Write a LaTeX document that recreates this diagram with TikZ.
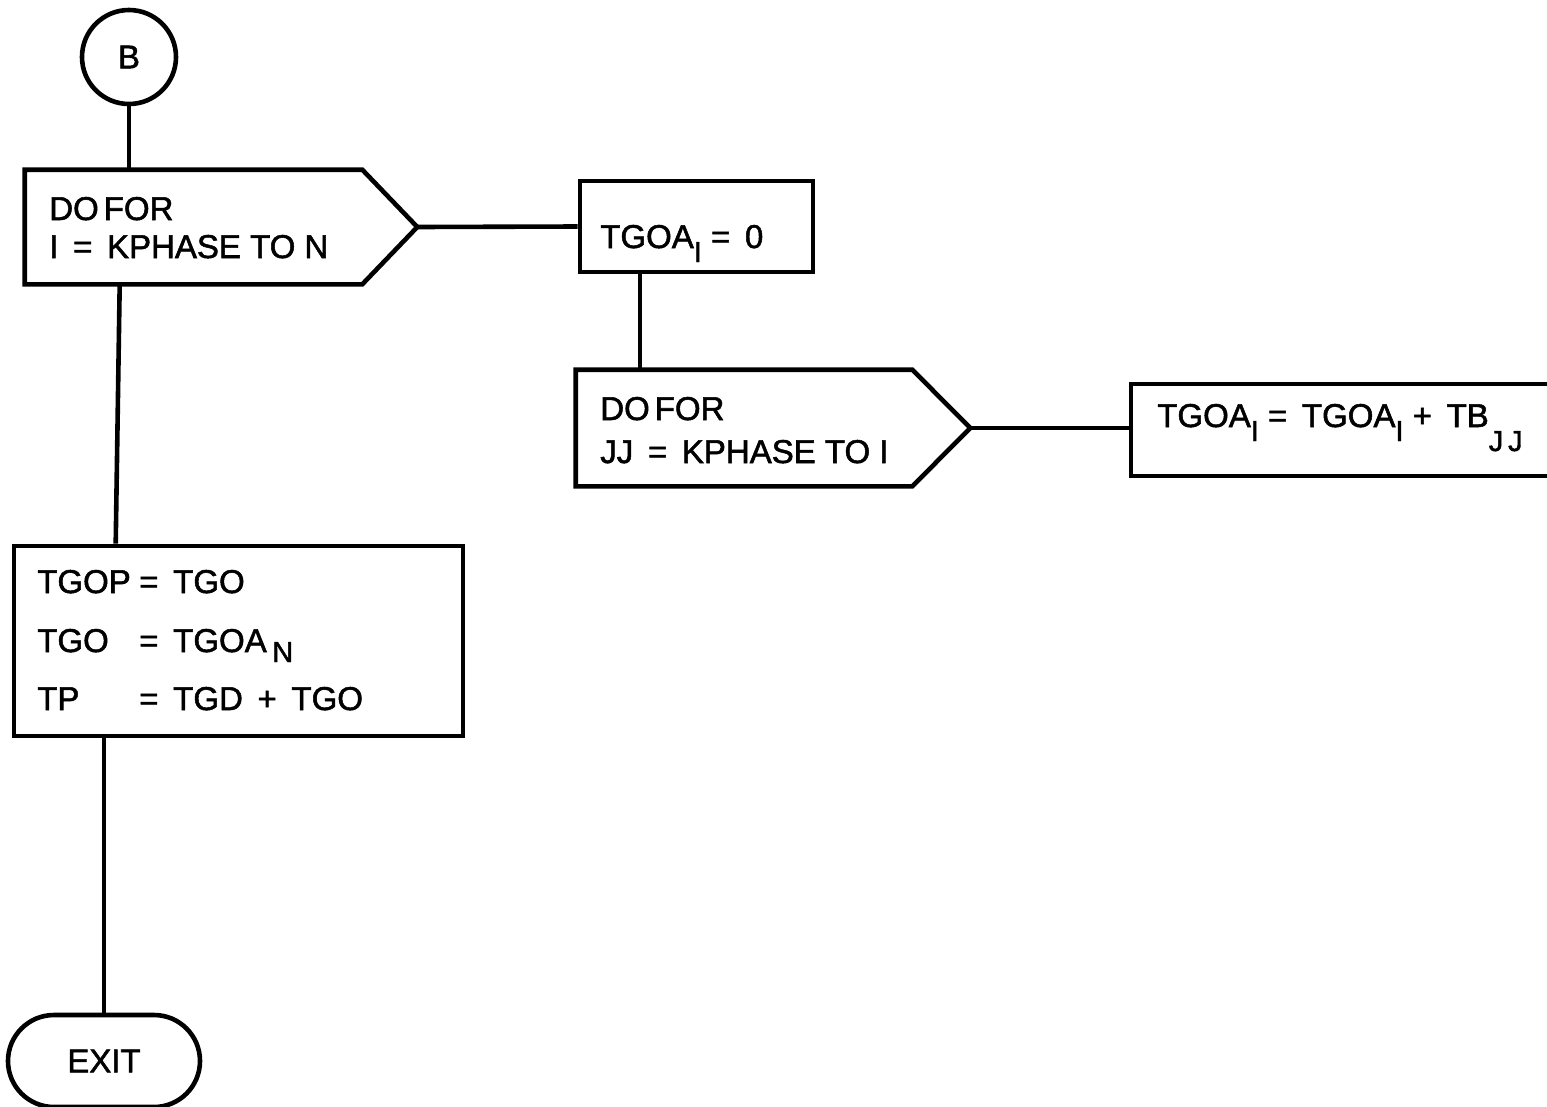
\documentclass[tikz,border=0pt]{standalone}
\usepackage{fontspec}
\setmainfont{Liberation Sans}[BoldFont=Liberation Sans, BoldFeatures={FakeBold=1.6}]
\usetikzlibrary{calc}
\newcommand\lowsub[2][14pt]{\raisebox{-#1}{\fontsize{29}{29}\selectfont #2}}
\begin{document}
\begin{tikzpicture}[x=1pt,y=-1pt,
  line width=4.6pt,
  every node/.style={font=\fontsize{33}{38}\selectfont\bfseries},
  box/.style={draw, rectangle, inner sep=0pt},
  ghost/.style={draw=none, rectangle, inner sep=0pt},
  txt/.style={anchor=base west, inner sep=0pt}]
\useasboundingbox (0,0) rectangle (1547,1106);
\clip (0,0) rectangle (1547,1106);
\fill[white] (0,0) rectangle (1547,1106);

% connector B
\node[draw, circle, minimum size=94pt, inner sep=0pt] (B) at (129,57) {B};

% DO FOR 1
\node[ghost, minimum width=388pt, minimum height=110pt] (d1) at (221,227) {};
\draw (d1.north west) -- ($(d1.north east)+(-55,0)$) -- (d1.east) -- ($(d1.south east)+(-55,0)$) -- (d1.south west) -- cycle;
\node[txt] (d1a) at (47,220) {DO\hspace{5pt}FOR};
\node[txt] (d1b) at (47,258) {I \,=\, KPHASE TO N};

% TGOA_I = 0
\node[box, minimum width=233pt, minimum height=91pt] (t1) at (696.5,226.5) {};
\node[txt] (t1a) at (598,248) {TGOA\lowsub{I} = \,0};

% DO FOR 2
\node[ghost, minimum width=390pt, minimum height=112pt] (d2) at (773,428) {};
\draw (d2.north west) -- ($(d2.north east)+(-58,0)$) -- (d2.east) -- ($(d2.south east)+(-58,0)$) -- (d2.south west) -- cycle;
\node[txt] (d2a) at (598,420) {DO\hspace{5pt}FOR};
\node[txt] (d2b) at (598,463) {JJ \,=\, KPHASE TO I};

% TGOA_I = TGOA_I + TB_JJ
\node[box, minimum width=434pt, minimum height=92pt] (t2) at (1348,430) {};
\node[txt] (t2a) at (1155,427) {TGOA\lowsub{I} = \,TGOA\lowsub{I} + \,TB\lowsub[24pt]{J\,J}};

% assignments
\node[box, minimum width=449pt, minimum height=190pt] (t3) at (238.5,641) {};
\node[txt] (t3a) at (35,593) {\makebox[102pt][l]{TGOP}= \,TGO};
\node[txt] (t3b) at (35,652) {\makebox[102pt][l]{TGO}= \,TGOA\,\lowsub[10pt]{N}};
\node[txt] (t3c) at (35,710) {\makebox[102pt][l]{TP}= \,TGD \,+ \,TGO};

% EXIT
\node[draw, rectangle, rounded corners=46pt, minimum width=192pt, minimum height=92pt, inner sep=0pt] (ex) at (104,1061) {EXIT};

% connectors
\draw (B.south) -- (B.south |- d1.north);
\draw (d1.east) -- (t1.west);
\draw (t1.south -| 640,0) -- (d2.north -| 640,0);
\draw (d2.east) -- (d2.east -| t2.west);
\draw ($(d1.south west)+(95,0)$) -- ($(t3.north west)+(104,0)$);
\draw (ex.north |- t3.south) -- (ex.north);
\end{tikzpicture}
\end{document}
